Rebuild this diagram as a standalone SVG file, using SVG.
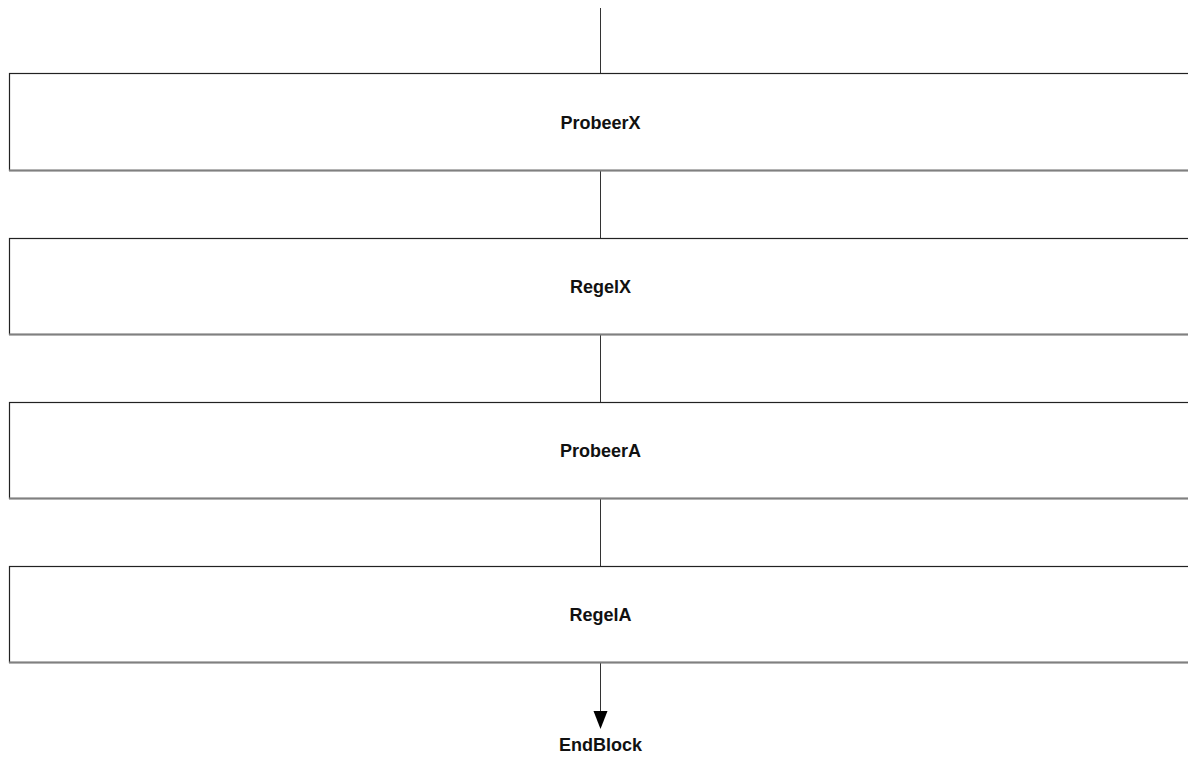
<svg xmlns="http://www.w3.org/2000/svg" width="1188" height="758" viewBox="0 0 1188 758">
<style>
.box{fill:#fff;stroke:#222;stroke-width:1.2}
.shade{stroke:#808080;stroke-width:1.8}
.lbl{font-family:"Liberation Sans",Arial,sans-serif;font-weight:bold;font-size:18px;fill:#111;text-anchor:middle}
.conn{stroke:#333;stroke-width:1;fill:none}
</style>
<rect width="1188" height="758" fill="#fff"/>
<g id="connectors">
<line class="conn" x1="600.5" y1="8" x2="600.5" y2="73"/>
<line class="conn" x1="600.5" y1="171" x2="600.5" y2="238"/>
<line class="conn" x1="600.5" y1="335" x2="600.5" y2="402"/>
<line class="conn" x1="600.5" y1="499" x2="600.5" y2="566"/>
<line class="conn" x1="600.5" y1="663" x2="600.5" y2="712"/>
<path d="M593.5,711 L607.5,711 L600.5,729 Z" fill="#000"/>
</g>
<g id="ProbeerX">
<rect class="box" x="9.5" y="73.5" width="1200" height="97"/>
<line class="shade" x1="9" y1="170.5" x2="1188" y2="170.5"/>
<text class="lbl" x="600.5" y="129">ProbeerX</text>
</g>
<g id="RegelX">
<rect class="box" x="9.5" y="238.5" width="1200" height="96"/>
<line class="shade" x1="9" y1="334.5" x2="1188" y2="334.5"/>
<text class="lbl" x="600.5" y="293">RegelX</text>
</g>
<g id="ProbeerA">
<rect class="box" x="9.5" y="402.5" width="1200" height="96"/>
<line class="shade" x1="9" y1="498.5" x2="1188" y2="498.5"/>
<text class="lbl" x="600.5" y="457">ProbeerA</text>
</g>
<g id="RegelA">
<rect class="box" x="9.5" y="566.5" width="1200" height="96"/>
<line class="shade" x1="9" y1="662.5" x2="1188" y2="662.5"/>
<text class="lbl" x="600.5" y="621">RegelA</text>
</g>
<g id="EndBlock">
<text class="lbl" x="600.5" y="751">EndBlock</text>
</g>
</svg>
